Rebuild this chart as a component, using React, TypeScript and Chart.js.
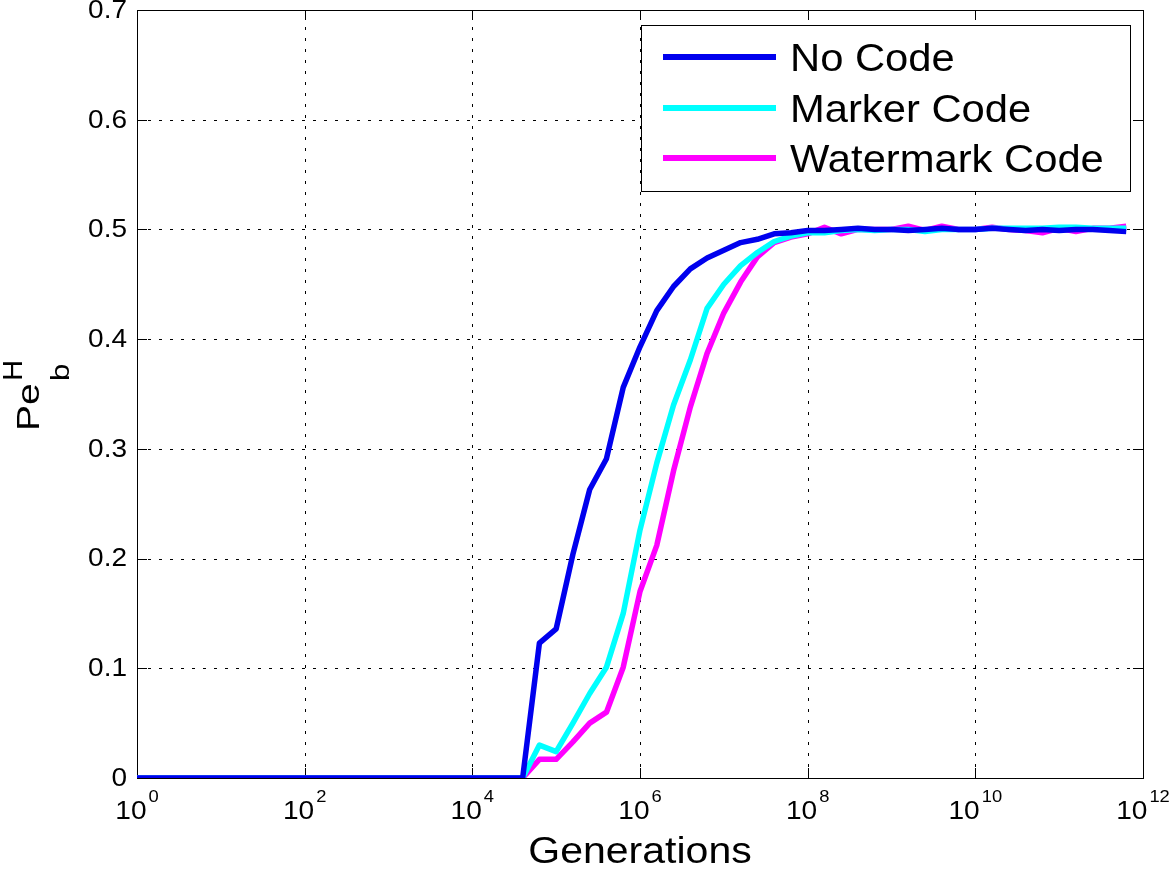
import React, { useEffect, useRef } from "react";
import { Chart, registerables } from "chart.js";

Chart.register(...registerables);

// log10(generations) sample positions
const exponents = [
  0, 0.2, 0.4, 0.6, 0.8, 1, 1.2, 1.4, 1.6, 1.8,
  2, 2.2, 2.4, 2.6, 2.8, 3, 3.2, 3.4, 3.6, 3.8,
  4, 4.2, 4.4, 4.6, 4.8, 5, 5.2, 5.4, 5.6, 5.8,
  6, 6.2, 6.4, 6.6, 6.8, 7, 7.2, 7.4, 7.6, 7.8,
  8, 8.2, 8.4, 8.6, 8.8, 9, 9.2, 9.4, 9.6, 9.8,
  10, 10.2, 10.4, 10.6, 10.8, 11, 11.2, 11.4, 11.6, 11.8,
];

const noCode = [
  0, 0, 0, 0, 0, 0, 0, 0, 0, 0,
  0, 0, 0, 0, 0, 0, 0, 0, 0, 0,
  0, 0, 0, 0, 0.123, 0.136, 0.204, 0.263, 0.291, 0.356,
  0.393, 0.426, 0.448, 0.464, 0.474, 0.481, 0.488, 0.491, 0.496, 0.497,
  0.499, 0.499, 0.5, 0.501, 0.5, 0.5, 0.499, 0.5, 0.501, 0.5,
  0.5, 0.501, 0.5, 0.499, 0.5, 0.499, 0.5, 0.5, 0.499, 0.498,
];

const markerCode = [
  0, 0, 0, 0, 0, 0, 0, 0, 0, 0,
  0, 0, 0, 0, 0, 0, 0, 0, 0, 0,
  0, 0, 0, 0, 0.03, 0.024, 0.05, 0.077, 0.101, 0.15,
  0.226, 0.287, 0.34, 0.381, 0.428, 0.45, 0.467, 0.479, 0.489, 0.494,
  0.497, 0.497, 0.499, 0.5, 0.499, 0.5, 0.5, 0.498, 0.5, 0.5,
  0.5, 0.501, 0.501, 0.501, 0.501, 0.502, 0.502, 0.501, 0.501, 0.501,
];

const watermarkCode = [
  0, 0, 0, 0, 0, 0, 0, 0, 0, 0,
  0, 0, 0, 0, 0, 0, 0, 0, 0, 0,
  0, 0, 0, 0, 0.017, 0.017, 0.033, 0.05, 0.06, 0.101,
  0.17, 0.212, 0.28, 0.338, 0.387, 0.424, 0.452, 0.475, 0.488, 0.493,
  0.496, 0.502, 0.496, 0.5, 0.5, 0.5, 0.503, 0.499, 0.503, 0.5,
  0.5, 0.502, 0.5, 0.499, 0.497, 0.501, 0.498, 0.501, 0.501, 0.503,
];

const seriesNames = ["No Code", "Marker Code", "Watermark Code"];
const seriesColors = ["#0000ee", "#00ffff", "#ff00ff"];
const xTickExponents = [0, 2, 4, 6, 8, 10, 12];
const yTickValues = [0, 0.1, 0.2, 0.3, 0.4, 0.5, 0.6, 0.7];
const yTickLabels = ["0", "0.1", "0.2", "0.3", "0.4", "0.5", "0.6", "0.7"];
const xTitle = "Generations";

const FONT = "'Liberation Sans', Arial, Helvetica, sans-serif";

function drawText(
  ctx: CanvasRenderingContext2D,
  text: string,
  x: number,
  y: number,
  size: number,
  hscale: number,
  align: CanvasTextAlign,
  baseline: CanvasTextBaseline
) {
  ctx.save();
  ctx.translate(x, y);
  ctx.scale(hscale, 1);
  ctx.font = `${size}px ${FONT}`;
  ctx.textAlign = align;
  ctx.textBaseline = baseline;
  ctx.fillStyle = "#000";
  ctx.fillText(text, 0, 0);
  ctx.restore();
}

const matlabPlugin = {
  id: "matlabLook",
  beforeDatasetsDraw(chart: any) {
    const ctx: CanvasRenderingContext2D = chart.ctx;
    const { left, right, top, bottom } = chart.chartArea;
    const xs = chart.scales.x;
    const ys = chart.scales.y;
    ctx.save();
    ctx.strokeStyle = "#000";
    ctx.lineWidth = 1;
    // dotted grid
    ctx.setLineDash([3, 8]);
    xTickExponents.forEach((e) => {
      const px = Math.round(xs.getPixelForValue(Math.pow(10, e))) + 0.5;
      if (px <= left + 2 || px >= right - 2) return;
      ctx.beginPath();
      ctx.moveTo(px, bottom);
      ctx.lineTo(px, top);
      ctx.stroke();
    });
    yTickValues.forEach((v) => {
      const py = Math.round(ys.getPixelForValue(v)) + 0.5;
      if (py <= top + 2 || py >= bottom - 2) return;
      ctx.beginPath();
      ctx.moveTo(left, py);
      ctx.lineTo(right, py);
      ctx.stroke();
    });
    ctx.setLineDash([]);
    // inward ticks
    const tl = 10;
    xTickExponents.forEach((e) => {
      const px = Math.round(xs.getPixelForValue(Math.pow(10, e))) + 0.5;
      ctx.beginPath();
      ctx.moveTo(px, bottom);
      ctx.lineTo(px, bottom - tl);
      ctx.moveTo(px, top);
      ctx.lineTo(px, top + tl);
      ctx.stroke();
    });
    yTickValues.forEach((v) => {
      const py = Math.round(ys.getPixelForValue(v)) + 0.5;
      ctx.beginPath();
      ctx.moveTo(left, py);
      ctx.lineTo(left + tl, py);
      ctx.moveTo(right, py);
      ctx.lineTo(right - tl, py);
      ctx.stroke();
    });
    // box
    ctx.strokeRect(Math.round(left) + 0.5, Math.round(top) + 0.5, Math.round(right - left), Math.round(bottom - top));
    ctx.restore();

    // tick labels
    yTickValues.forEach((v, i) => {
      const py = ys.getPixelForValue(v);
      drawText(ctx, yTickLabels[i], left - 10, py + 1, 25, 1.12, "right", "middle");
    });
    xTickExponents.forEach((e) => {
      const px = xs.getPixelForValue(Math.pow(10, e));
      ctx.save();
      ctx.font = `26px ${FONT}`;
      const wBase = ctx.measureText("10").width * 1.08;
      ctx.font = `17px ${FONT}`;
      const wExp = ctx.measureText(String(e)).width * 1.08;
      ctx.restore();
      const gap = 2;
      const start = px - (wBase + gap + wExp) / 2;
      drawText(ctx, "10", start, bottom + 41, 26, 1.08, "left", "alphabetic");
      drawText(ctx, String(e), start + wBase + gap, bottom + 24, 17, 1.08, "left", "alphabetic");
    });
    // x title
    drawText(ctx, xTitle, (left + right) / 2, bottom + 85, 36, 1.14, "center", "alphabetic");
    // y title: Pe_b^H rotated
    ctx.save();
    ctx.translate(39, 431);
    ctx.rotate(-Math.PI / 2);
    ctx.fillStyle = "#000";
    ctx.textBaseline = "alphabetic";
    ctx.textAlign = "left";
    ctx.save();
    ctx.scale(1.22, 1);
    ctx.font = `32px ${FONT}`;
    ctx.fillText("Pe", 0, 0);
    ctx.restore();
    ctx.save();
    ctx.translate(50, 30);
    ctx.scale(1.2, 1);
    ctx.font = `26px ${FONT}`;
    ctx.fillText("b", 0, 0);
    ctx.restore();
    ctx.save();
    ctx.translate(50, -17);
    ctx.scale(1.05, 1);
    ctx.font = `28px ${FONT}`;
    ctx.fillText("H", 0, 0);
    ctx.restore();
    ctx.restore();
  },
  afterDatasetsDraw(chart: any) {
    const ctx: CanvasRenderingContext2D = chart.ctx;
    const bx = 641, by = 25, bw = 489, bh = 166;
    ctx.save();
    ctx.fillStyle = "#fff";
    ctx.fillRect(bx, by, bw, bh);
    ctx.strokeStyle = "#000";
    ctx.lineWidth = 1;
    ctx.strokeRect(bx + 0.5, by + 0.5, bw, bh);
    const rows = [57, 108, 158];
    seriesNames.forEach((name, i) => {
      ctx.strokeStyle = seriesColors[i];
      ctx.lineWidth = 6;
      ctx.beginPath();
      ctx.moveTo(663, rows[i]);
      ctx.lineTo(776, rows[i]);
      ctx.stroke();
      drawText(ctx, name, 790, rows[i] + 14, 39, 1.07, "left", "alphabetic");
    });
    ctx.restore();
  },
};

export default function App() {
  const ref = useRef<HTMLCanvasElement | null>(null);
  useEffect(() => {
    document.body.style.margin = "0";
    const canvas = ref.current;
    if (!canvas) return;
    const toPts = (vals: number[]) => vals.map((v, i) => ({ x: Math.pow(10, exponents[i]), y: v }));
    const allSeries = [noCode, markerCode, watermarkCode];
    const chart = new Chart(canvas, {
      type: "line",
      data: {
        datasets: allSeries.map((vals, i) => ({
          label: seriesNames[i],
          data: toPts(vals),
          borderColor: seriesColors[i],
          backgroundColor: seriesColors[i],
          borderWidth: 5.5,
          pointRadius: 0,
          tension: 0,
          fill: false,
          borderJoinStyle: "round" as const,
        })),
      },
      options: {
        animation: false,
        responsive: false,
        devicePixelRatio: 1,
        layout: { padding: { left: 137, top: 10, right: 29, bottom: 92 } },
        plugins: { legend: { display: false }, tooltip: { enabled: false } },
        scales: {
          x: {
            type: "logarithmic",
            min: 1,
            max: 1e12,
            display: false,
            afterBuildTicks: (scale: any) => {
              scale.ticks = xTickExponents.map((e) => ({ value: Math.pow(10, e) }));
            },
          },
          y: {
            type: "linear",
            min: 0,
            max: 0.7,
            display: false,
          },
        },
      },
      plugins: [matlabPlugin],
    } as any);
    return () => chart.destroy();
  }, []);
  return (
    <div style={{ width: 1172, height: 870, background: "#fff" }}>
      <canvas ref={ref} width={1172} height={870} style={{ display: "block" }} />
    </div>
  );
}
